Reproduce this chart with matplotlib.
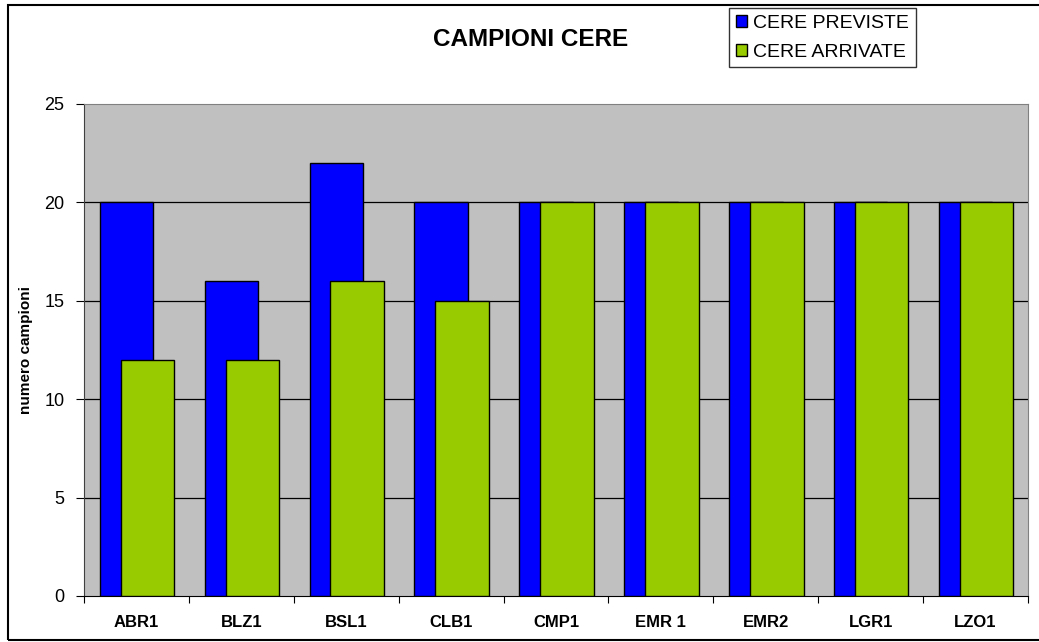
import numpy as np
import matplotlib
matplotlib.use('Agg')
import matplotlib.pyplot as plt
from matplotlib.patches import Rectangle, Patch

plt.rcParams['font.family'] = ['Liberation Sans', 'DejaVu Sans']

categories = ['ABR1', 'BLZ1', 'BSL1', 'CLB1', 'CMP1', 'EMR 1', 'EMR2', 'LGR1', 'LZO1']
previste = [20, 16, 22, 20, 20, 20, 20, 20, 20]
arrivate = [12, 12, 16, 15, 20, 20, 20, 20, 20]
yticks = [0, 5, 10, 15, 20, 25]

blue = '#0000FF'
green = '#99CC00'

fig = plt.figure(figsize=(10.39, 6.42), dpi=100)
ax = fig.add_axes([84 / 1039, 1 - 596 / 642, (1028 - 84) / 1039, (596 - 104) / 642])
ax.set_facecolor('#C0C0C0')

x = np.arange(len(categories))
w = 0.51
ax.bar(x - 0.35, previste, width=w, align='edge', color=blue, edgecolor='black', linewidth=1, zorder=3)
ax.bar(x - 0.15, arrivate, width=w, align='edge', color=green, edgecolor='black', linewidth=1, zorder=4)

ax.set_xlim(-0.5, len(categories) - 0.5)
ax.set_ylim(0, 25)
ax.set_yticks(yticks)
ax.set_yticklabels([str(v) for v in yticks], fontsize=13)
for v in yticks[1:-1]:
    ax.axhline(v, color='black', linewidth=0.9, zorder=1)

ax.set_xticks(np.arange(len(categories) + 1) - 0.5, minor=False)
ax.set_xticklabels([])
ax.set_xticks(x, minor=True)
ax.set_xticklabels(categories, minor=True, fontsize=12, fontweight='bold')
ax.tick_params(axis='x', which='minor', length=0, pad=14)
ax.tick_params(axis='x', which='major', length=5, direction='out')
ax.tick_params(axis='y', length=6, direction='out', pad=8)

for s in ['top', 'right']:
    ax.spines[s].set_color('#808080')
ax.spines['left'].set_color('#404040')
ax.spines['bottom'].set_color('black')

ax.set_ylabel('numero campioni', fontsize=11, fontweight='bold', labelpad=8)

fig.text(531 / 1039, 1 - 39 / 642, 'CAMPIONI CERE', ha='center', va='center',
         fontsize=17.5, fontweight='bold')

handles = [Patch(facecolor=blue, edgecolor='black', label='CERE PREVISTE'),
           Patch(facecolor=green, edgecolor='black', label='CERE ARRIVATE')]
leg = fig.legend(handles=handles, loc='upper left', bbox_to_anchor=(729 / 1039, 1 - 8 / 642),
                 fontsize=14, frameon=True, fancybox=False, edgecolor='black',
                 handlelength=0.6, handleheight=0.6, handletextpad=0.3,
                 borderpad=0.35, labelspacing=0.6, borderaxespad=0)
leg.get_frame().set_linewidth(1)

fig.patches.append(Rectangle((8 / 1039, 1 - 640 / 642), 1.1, 635 / 642, transform=fig.transFigure,
                             fill=False, edgecolor='black', linewidth=1.5))

fig.savefig('out.png', dpi=100)
